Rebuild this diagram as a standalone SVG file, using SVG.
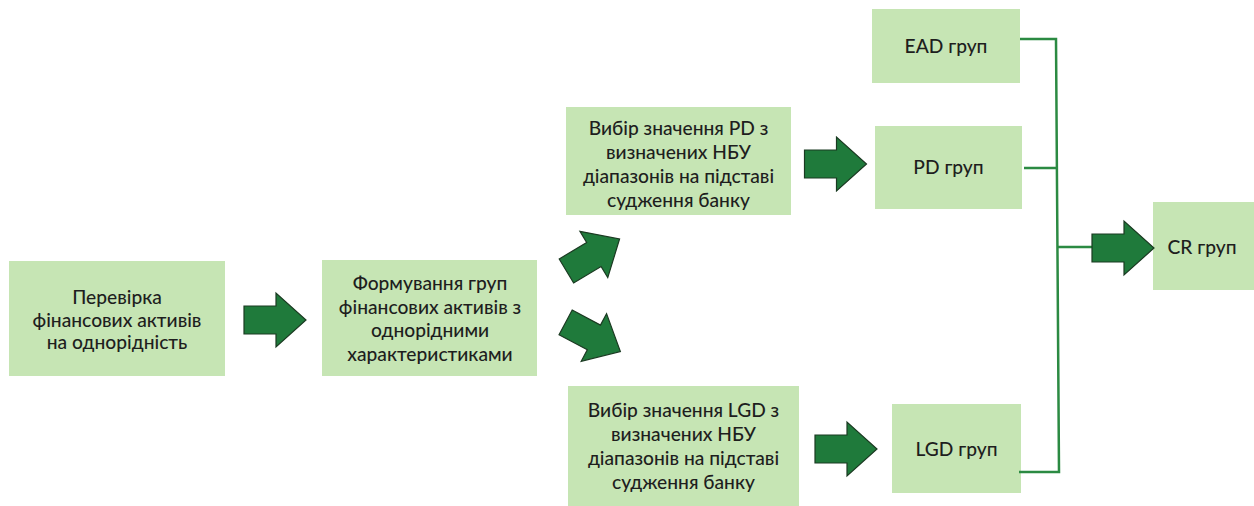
<svg xmlns="http://www.w3.org/2000/svg" xmlns:xlink="http://www.w3.org/1999/xlink" width="1254" height="506" viewBox="0 0 1254 506">
<style>
.box{fill:#c6e5b4;}
.t{font-family:Lato,"Liberation Sans",sans-serif;font-size:19.2px;fill:#1e1e1e;text-anchor:middle;font-weight:500;}
.arr{fill:#1f7a3b;stroke:#1b3a22;stroke-width:1.2;stroke-linejoin:miter;}
.ln{fill:none;stroke:#2b8a42;stroke-width:2.5;}
</style>
<defs>
<path id="bigArrow" d="M-31,-14 L1,-14 L1,-27 L31,0 L1,27 L1,14 L-31,14 Z"/>
</defs>
<rect width="1254" height="506" fill="#ffffff"/>
<g id="node-check">
<rect class="box" x="9" y="261" width="216" height="115"/>
<text class="t" x="117" y="304">Перевірка</text>
<text class="t" x="117" y="326.5">фінансових активів</text>
<text class="t" x="117" y="349">на однорідність</text>
</g>
<g id="node-form">
<rect class="box" x="322" y="260" width="215" height="116"/>
<text class="t" x="430" y="290">Формування груп</text>
<text class="t" x="430" y="313.5">фінансових активів з</text>
<text class="t" x="430" y="337">однорідними</text>
<text class="t" x="430" y="360.5">характеристиками</text>
</g>
<g id="node-pd-select">
<rect class="box" x="566" y="107" width="225" height="108"/>
<text class="t" x="678.5" y="135">Вибір значення PD з</text>
<text class="t" x="678.5" y="159">визначених НБУ</text>
<text class="t" x="678.5" y="183">діапазонів на підставі</text>
<text class="t" x="678.5" y="207">судження банку</text>
</g>
<g id="node-lgd-select">
<rect class="box" x="568" y="386" width="231" height="120"/>
<text class="t" x="683.5" y="417">Вибір значення LGD з</text>
<text class="t" x="683.5" y="441">визначених НБУ</text>
<text class="t" x="683.5" y="465">діапазонів на підставі</text>
<text class="t" x="683.5" y="489">судження банку</text>
</g>
<g id="node-ead">
<rect class="box" x="872" y="9" width="148" height="74"/>
<text class="t" x="946" y="53">EAD груп</text>
</g>
<g id="node-pd">
<rect class="box" x="875" y="126" width="147" height="83"/>
<text class="t" x="948.5" y="174">PD груп</text>
</g>
<g id="node-lgd">
<rect class="box" x="892" y="404" width="129" height="89"/>
<text class="t" x="956.5" y="456">LGD груп</text>
</g>
<g id="node-cr">
<rect class="box" x="1153" y="202" width="101" height="88"/>
<text class="t" x="1202" y="254">CR груп</text>
</g>
<g id="connectors">
<use xlink:href="#bigArrow" class="arr" transform="translate(275,320)"/>
<use xlink:href="#bigArrow" class="arr" transform="translate(593,255) rotate(-31)"/>
<use xlink:href="#bigArrow" class="arr" transform="translate(593,337) rotate(28)"/>
<use xlink:href="#bigArrow" class="arr" transform="translate(835.5,164)"/>
<use xlink:href="#bigArrow" class="arr" transform="translate(846,449)"/>
<path class="ln" d="M1020,39 L1056,39 L1059,472 L1019,472"/>
<path class="ln" d="M1024,168 L1058,168"/>
<path class="ln" d="M1058,247 L1093,247"/>
<use xlink:href="#bigArrow" class="arr" transform="translate(1123,248)"/>
</g>
</svg>
